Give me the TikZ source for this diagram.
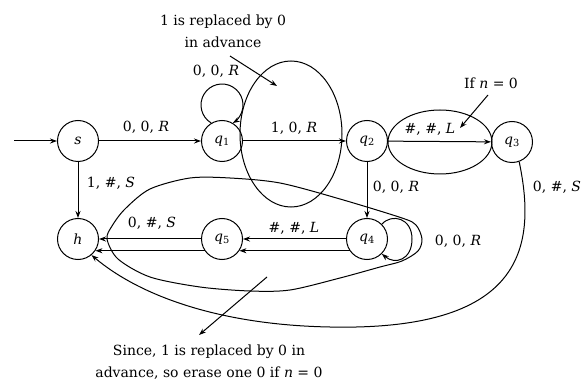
\documentclass[tikz,border=0pt]{standalone}
\usepackage{fontspec}
\setmainfont{DejaVu Serif}
\usetikzlibrary{arrows.meta}
\newcommand\vv[1]{\textit{#1}}
\newcommand\stq[1]{\textit{q}\textsubscript{#1}}
\begin{document}
\begin{tikzpicture}[x=1pt,y=1pt,line width=1pt,
  font=\fontsize{14}{22}\selectfont,
  state/.style={circle,draw,minimum size=41pt,inner sep=0pt},
  arr/.style={-{Stealth[length=7pt,width=5pt]}},
  lbl/.style={inner sep=1pt},
  note/.style={align=center,inner sep=1pt}]
\useasboundingbox (0,0) rectangle (582,381);
% states
\node[state] (s)  at (78,240)  {\vv{s}};
\node[state] (q1) at (222,240) {\stq{1}};
\node[state] (q2) at (367,240) {\stq{2}};
\node[state] (q3) at (512,239) {\stq{3}};
\node[state] (h)  at (78,142)  {\vv{h}};
\node[state] (q5) at (222,142) {\stq{5}};
\node[state] (q4) at (367,142) {\stq{4}};
% start
\coordinate (start) at (14,240);
\draw[arr] (start) -- (s);
% transitions
\draw[arr] (s) -- (q1);
\draw[arr] (q1) -- (q2);
\draw[arr] (q2) -- (q3);
\draw[arr] (s) -- (h);
\draw[arr] (q2) -- (q4);
\draw[arr] (q4) -- (q5);
\draw[arr] (q4.214.8) -- (q5.-34.8);
\draw[arr] (q5) -- (h);
\draw[arr] (q5.214.8) -- (h.-34.8);
\draw[arr] (q1.121) arc[start angle=239,end angle=-59,radius=21];
\draw[arr] (q4.45) .. controls (392,168) and (412,163) .. (412,142)
                   .. controls (412,121) and (395,116) .. (q4.-45);
\draw[arr] (q3.-70) .. controls (538,130) and (520,50) .. (330,54)
                    .. controls (220,56) and (140,85) .. (h.-50);
% labels
\node[lbl] at (146,254) {0, 0, \vv{R}};
\node[lbl] at (216,310) {0, 0, \vv{R}};
\node[lbl] at (294,253) {1, 0, \vv{R}};
\node[lbl] at (430,252) {\#, \#, \vv{L}};
\node[lbl] at (111,198) {1, \#, \vv{S}};
\node[lbl] at (396,194) {0, 0, \vv{R}};
\node[lbl] at (557,194) {0, \#, \vv{S}};
\node[lbl] at (152,158) {0, \#, \vv{S}};
\node[lbl] at (294,153) {\#, \#, \vv{L}};
\node[lbl] at (458,140) {0, 0, \vv{R}};
% ellipses
\draw (291,247) ellipse [x radius=51,y radius=73];
\draw (440,239) ellipse [x radius=52,y radius=32];
\draw plot[smooth cycle] coordinates {(107,142) (118,122) (150,104) (200,94)
  (250,90) (290,91) (340,103) (380,114) (402,120) (418,130) (422,142)
  (416,156) (402,163) (340,182) (280,198) (230,203) (190,203) (150,192)
  (125,172) (112,155)};
% notes
\node[note] (n1) at (223,350) {1 is replaced by 0\\in advance};
\node[note] (n2) at (491,298) {If \vv{n} = 0};
\node[note] (n3) at (209,19) {Since, 1 is replaced by 0 in\\advance, so erase one 0 if \vv{n} = 0};
\coordinate (a1s) at (230,325); \coordinate (a1e) at (277,295);
\coordinate (a2s) at (488,286); \coordinate (a2e) at (460,253);
\coordinate (a3s) at (267,104); \coordinate (a3e) at (199,46);
\draw[arr] (a1s) -- (a1e);
\draw[arr] (a2s) -- (a2e);
\draw[arr] (a3s) -- (a3e);
\end{tikzpicture}
\end{document}
